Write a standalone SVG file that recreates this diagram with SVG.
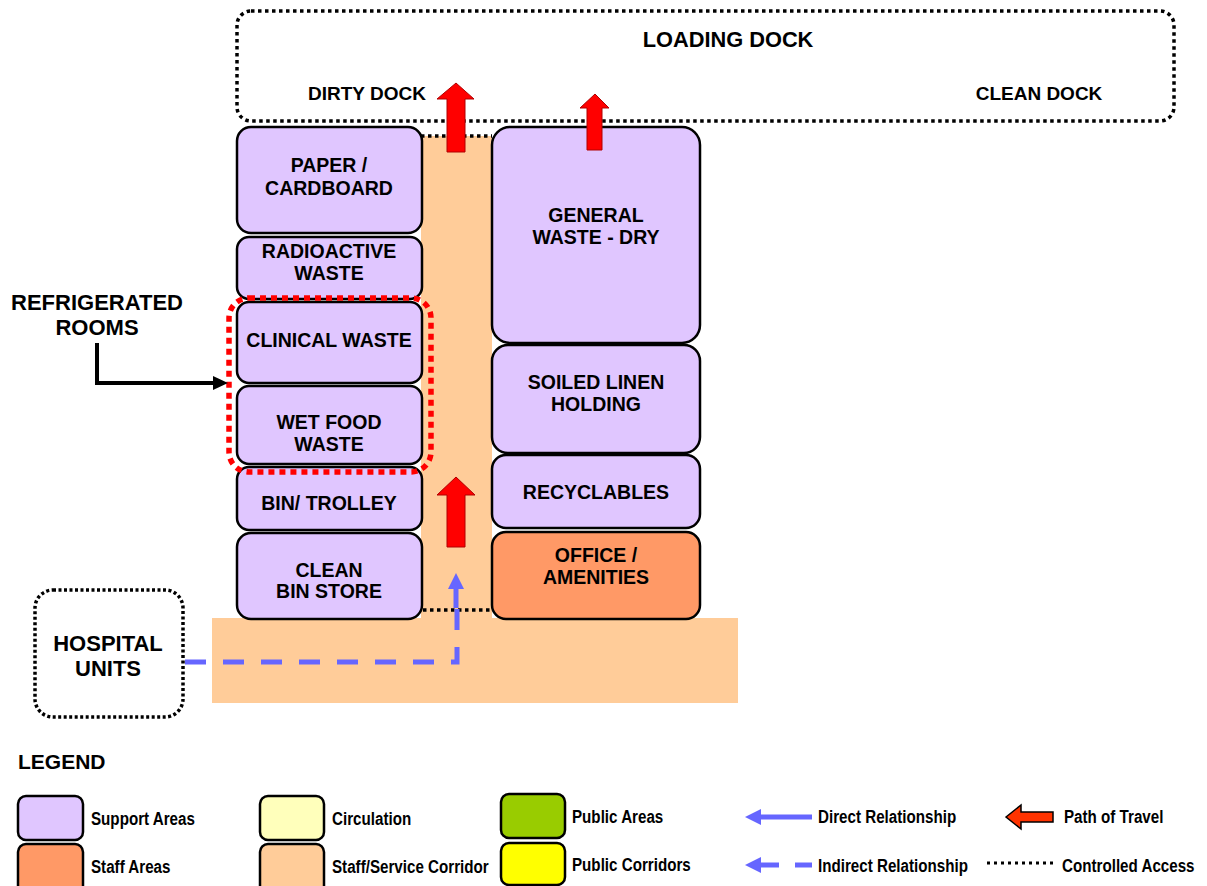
<svg xmlns="http://www.w3.org/2000/svg" width="1207" height="886" viewBox="0 0 1207 886">
<style>
.room{fill:#E0C6FF;stroke:#000;stroke-width:2.5}
.staff{fill:#FF9966;stroke:#000;stroke-width:2.5}
.corr{fill:#FFCC99}
.lbl{font-family:"Liberation Sans",Arial,sans-serif;font-weight:bold;font-size:19.5px;fill:#000;text-anchor:middle}
.big{font-family:"Liberation Sans",Arial,sans-serif;font-weight:bold;fill:#000}
.leg{font-family:"Liberation Sans",Arial,sans-serif;font-weight:bold;font-size:18.5px;fill:#000}
.dotblk{fill:none;stroke:#000;stroke-width:3.5;stroke-dasharray:3.5 3.5}
.travel{fill:#FF0000;stroke:#B00000;stroke-width:1}
.sw{stroke:#000;stroke-width:2.5}
</style>
<rect width="1207" height="886" fill="#fff"/>

<g id="corridor">
<rect class="corr" x="421" y="136" width="71" height="484"/>
<rect class="corr" x="212" y="618" width="526" height="85"/>
</g>

<g id="loading-dock">
<rect class="dotblk" x="237" y="11" width="937" height="110" rx="14"/>
<text class="big" x="728" y="47" font-size="21.8" text-anchor="middle">LOADING DOCK</text>
<text class="big" x="367" y="100" font-size="19" text-anchor="middle">DIRTY DOCK</text>
<text class="big" x="1039" y="100" font-size="19" text-anchor="middle">CLEAN DOCK</text>
</g>

<g id="paper-cardboard">
<rect class="room" x="237" y="127" width="185" height="106" rx="14"/>
<text class="lbl" x="329" y="172">PAPER /</text>
<text class="lbl" x="329" y="195">CARDBOARD</text>
</g>
<g id="radioactive-waste">
<rect class="room" x="237" y="237" width="185" height="62" rx="12"/>
<text class="lbl" x="329" y="258">RADIOACTIVE</text>
<text class="lbl" x="329" y="280">WASTE</text>
</g>
<g id="clinical-waste">
<rect class="room" x="237" y="302" width="185" height="81" rx="12"/>
<text class="lbl" x="329" y="347">CLINICAL WASTE</text>
</g>
<g id="wet-food-waste">
<rect class="room" x="237" y="386" width="185" height="78" rx="12"/>
<text class="lbl" x="329" y="429">WET FOOD</text>
<text class="lbl" x="329" y="451">WASTE</text>
</g>
<g id="bin-trolley">
<rect class="room" x="237" y="467" width="185" height="63" rx="12"/>
<text class="lbl" x="329" y="510">BIN/ TROLLEY</text>
</g>
<g id="clean-bin-store">
<rect class="room" x="237" y="533" width="185" height="86" rx="14"/>
<text class="lbl" x="329" y="577">CLEAN</text>
<text class="lbl" x="329" y="598">BIN STORE</text>
</g>

<g id="general-waste-dry">
<rect class="room" x="492" y="127" width="208" height="216" rx="18"/>
<text class="lbl" x="596" y="222">GENERAL</text>
<text class="lbl" x="596" y="244">WASTE - DRY</text>
</g>
<g id="soiled-linen-holding">
<rect class="room" x="492" y="345" width="208" height="108" rx="16"/>
<text class="lbl" x="596" y="389">SOILED LINEN</text>
<text class="lbl" x="596" y="411">HOLDING</text>
</g>
<g id="recyclables">
<rect class="room" x="492" y="455" width="208" height="73" rx="14"/>
<text class="lbl" x="596" y="499">RECYCLABLES</text>
</g>
<g id="office-amenities">
<rect class="staff" x="492" y="532" width="208" height="87" rx="14"/>
<text class="lbl" x="596" y="562">OFFICE /</text>
<text class="lbl" x="596" y="584">AMENITIES</text>
</g>

<g id="refrigerated-rooms">
<rect x="229" y="298" width="202" height="174" rx="20" fill="none" stroke="#FF0000" stroke-width="5.5" stroke-dasharray="6 5"/>
<text class="big" x="97" y="310" font-size="22" text-anchor="middle">REFRIGERATED</text>
<text class="big" x="97" y="335" font-size="22" text-anchor="middle">ROOMS</text>
</g>

<g id="hospital-units">
<rect x="35" y="590" width="148" height="127" rx="18" fill="none" stroke="#000" stroke-width="3.5" stroke-dasharray="3 2.5"/>
<text class="big" x="108" y="651" font-size="22" text-anchor="middle">HOSPITAL</text>
<text class="big" x="108" y="676" font-size="22" text-anchor="middle">UNITS</text>
</g>

<g id="connectors">
<line x1="421" y1="136" x2="492" y2="136" class="dotblk"/>
<line x1="423" y1="610" x2="492" y2="610" class="dotblk"/>
<polygon class="travel" points="456,83 474,99 465,99 465,152 447,152 447,99 437,99"/>
<polygon class="travel" points="595,94 609,108 602,108 602,150 587,150 587,108 580,108"/>
<polygon class="travel" points="456,477 475,495 465,495 465,547 447,547 447,495 437,495"/>
<path d="M185,662 H457 V600" fill="none" stroke="#6666FF" stroke-width="5" stroke-dasharray="21 17"/>
<line x1="456" y1="608" x2="456" y2="586" stroke="#6666FF" stroke-width="5"/>
<polygon points="456,573 464,589 448,589" fill="#6666FF"/>
<path d="M97,343 V383 H216" fill="none" stroke="#000" stroke-width="4"/>
<polygon points="228,383 213,376 213,390" fill="#000"/>
</g>

<g id="legend">
<text class="big" x="18" y="769" font-size="21">LEGEND</text>
<rect class="sw" x="18" y="796" width="65" height="44" rx="8" fill="#E0C6FF"/>
<text class="leg" transform="translate(91,825) scale(0.82,1)">Support Areas</text>
<rect class="sw" x="18" y="844" width="65" height="50" rx="8" fill="#FF9966"/>
<text class="leg" transform="translate(91,873) scale(0.82,1)">Staff Areas</text>
<rect class="sw" x="260" y="796" width="64" height="44" rx="8" fill="#FFFFBB"/>
<text class="leg" transform="translate(332,825) scale(0.82,1)">Circulation</text>
<rect class="sw" x="260" y="844" width="64" height="50" rx="8" fill="#FFCC99"/>
<text class="leg" transform="translate(332,873) scale(0.82,1)">Staff/Service Corridor</text>
<rect class="sw" x="501" y="794" width="64" height="44" rx="8" fill="#99CC00"/>
<text class="leg" transform="translate(572,823) scale(0.82,1)">Public Areas</text>
<rect class="sw" x="501" y="843" width="64" height="42" rx="8" fill="#FFFF00"/>
<text class="leg" transform="translate(572,871) scale(0.82,1)">Public Corridors</text>
<line x1="758" y1="817" x2="812" y2="817" stroke="#6666FF" stroke-width="5"/>
<polygon points="745,817 761,809 761,825" fill="#6666FF"/>
<text class="leg" transform="translate(818,823) scale(0.82,1)">Direct Relationship</text>
<line x1="758" y1="865" x2="779" y2="865" stroke="#6666FF" stroke-width="5"/>
<line x1="795" y1="865" x2="812" y2="865" stroke="#6666FF" stroke-width="5"/>
<polygon points="745,865 761,857 761,873" fill="#6666FF"/>
<text class="leg" transform="translate(818,872) scale(0.82,1)">Indirect Relationship</text>
<polygon points="1006,817 1021,805 1021,812 1053,812 1053,822 1021,822 1021,829" fill="#FF3300" stroke="#000" stroke-width="1.5"/>
<text class="leg" transform="translate(1064,823) scale(0.82,1)">Path of Travel</text>
<line x1="987" y1="863" x2="1054" y2="863" stroke="#000" stroke-width="3" stroke-dasharray="3 4"/>
<text class="leg" transform="translate(1062,872) scale(0.82,1)">Controlled Access</text>
</g>
</svg>
